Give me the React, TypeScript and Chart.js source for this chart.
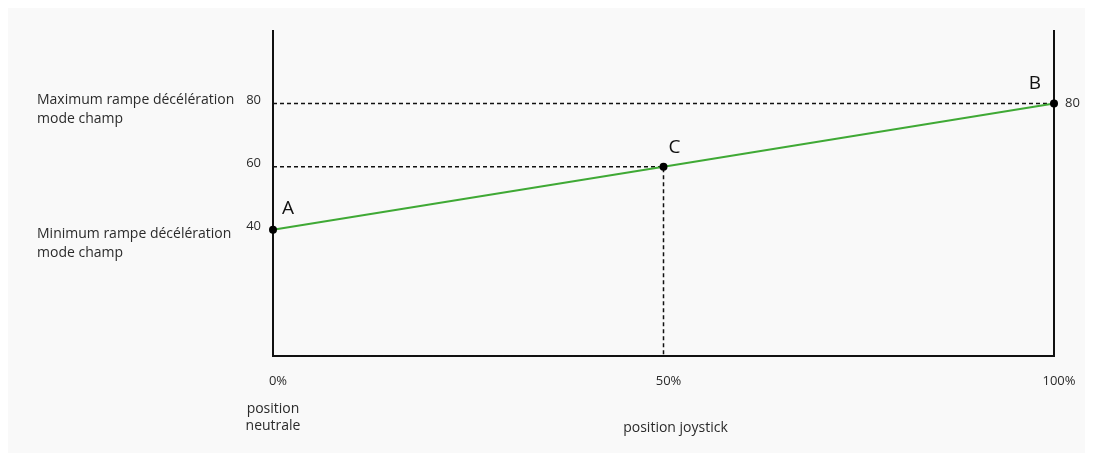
import React, { useEffect, useRef } from "react";
import { Chart, registerables } from "chart.js";

Chart.register(...registerables);

// Data
const pointLabels = ["A", "C", "B"];
const joystickPos = [0, 50, 100];
const rampValues = [40, 60, 80];
const xTickValues = [0, 50, 100];
const leftTickValues = [40, 60, 80];
const rightTickValues = [80];
const maxRampLabel = ["Maximum rampe décélération", "mode champ"];
const minRampLabel = ["Minimum rampe décélération", "mode champ"];
const neutralLabel = ["position", "neutrale"];
const xAxisTitle = "position joystick";

const FONT = "'Open Sans', 'Noto Sans', sans-serif";
const TEXT = "#2b2b2b";
const GREEN = "#3fa935";

const annotationPlugin = {
  id: "annot",
  afterDatasetsDraw(chart: any) {
    const ctx = chart.ctx;
    const x = chart.scales.x;
    const y = chart.scales.y;
    ctx.save();
    ctx.fillStyle = TEXT;
    ctx.font = `14px ${FONT}`;
    ctx.textAlign = "left";
    ctx.textBaseline = "middle";
    const lx = 29;
    const yMax = y.getPixelForValue(rampValues[2]);
    ctx.fillText(maxRampLabel[0], lx, yMax - 4);
    ctx.fillText(maxRampLabel[1], lx, yMax + 15);
    const yMin = y.getPixelForValue(rampValues[0]);
    ctx.fillText(minRampLabel[0], lx, yMin + 4);
    ctx.fillText(minRampLabel[1], lx, yMin + 23);

    // x descriptions
    ctx.textAlign = "center";
    const x0 = x.getPixelForValue(joystickPos[0]);
    ctx.fillText(neutralLabel[0], x0, 401);
    ctx.fillText(neutralLabel[1], x0, 418);
    ctx.fillText(xAxisTitle, x.getPixelForValue(joystickPos[1]) + 12, 420);

    // point letters
    ctx.fillStyle = "#111111";
    ctx.font = `19px ${FONT}`;
    const offs = [
      [15, -21],
      [11, -19],
      [-19, -20],
    ];
    pointLabels.forEach((lab, i) => {
      const px = x.getPixelForValue(joystickPos[i]);
      const py = y.getPixelForValue(rampValues[i]);
      ctx.fillText(lab, px + offs[i][0], py + offs[i][1]);
    });
    ctx.restore();
  },
};

export default function App() {
  const ref = useRef<HTMLCanvasElement | null>(null);
  useEffect(() => {
    if (!ref.current) return;
    const dash = [4, 3];
    const chart = new Chart(ref.current, {
      type: "line",
      data: {
        datasets: [
          {
            data: joystickPos.map((v, i) => ({ x: v, y: rampValues[i] })),
            borderColor: GREEN,
            borderWidth: 2,
            pointRadius: 4,
            pointBackgroundColor: "#000000",
            pointBorderColor: "#000000",
            pointBorderWidth: 0,
            clip: false,
            yAxisID: "y",
          } as any,
          {
            data: [
              { x: joystickPos[0], y: rampValues[2] },
              { x: joystickPos[2], y: rampValues[2] },
            ],
            borderColor: "#111111",
            borderWidth: 1.5,
            borderDash: dash,
            pointRadius: 0,
            clip: false,
            yAxisID: "y",
          } as any,
          {
            data: [
              { x: joystickPos[0], y: rampValues[1] },
              { x: joystickPos[1], y: rampValues[1] },
              { x: joystickPos[1], y: 0 },
              { x: joystickPos[0], y: 0 },
            ],
            borderColor: "#111111",
            borderWidth: 1.5,
            borderDash: dash,
            pointRadius: 0,
            clip: false,
            yAxisID: "y",
          } as any,
        ],
      },
      options: {
        animation: false,
        responsive: false,
        events: [],
        layout: { padding: { top: 23, left: 0, right: 0, bottom: 0 } },
        plugins: { legend: { display: false }, tooltip: { enabled: false } },
        scales: {
          x: {
            type: "linear",
            min: 0,
            max: 100,
            grid: { display: false, drawTicks: false },
            border: { display: true, color: "#111111", width: 2 },
            afterBuildTicks: (s: any) => {
              s.ticks = xTickValues.map((v) => ({ value: v }));
            },
            afterFit: (s: any) => {
              s.height = 97;
              s.paddingLeft = 0;
              s.paddingRight = 0;
            },
            ticks: {
              padding: 17,
              labelOffset: 5,
              maxRotation: 0,
              autoSkip: false,
              color: TEXT,
              font: { family: FONT, size: 13 },
              callback: (v: any) => `${v}%`,
            },
          },
          y: {
            type: "linear",
            position: "left",
            min: 0,
            max: 103,
            grid: { display: false, drawTicks: false },
            border: { display: true, color: "#111111", width: 2 },
            afterBuildTicks: (s: any) => {
              s.ticks = leftTickValues.map((v) => ({ value: v }));
            },
            afterFit: (s: any) => {
              s.width = 265;
            },
            ticks: {
              padding: 12,
              labelOffset: -3,
              color: TEXT,
              font: { family: FONT, size: 13 },
            },
          },
          y2: {
            type: "linear",
            position: "right",
            min: 0,
            max: 103,
            grid: { display: false, drawTicks: false },
            border: { display: true, color: "#111111", width: 2 },
            afterBuildTicks: (s: any) => {
              s.ticks = rightTickValues.map((v) => ({ value: v }));
            },
            afterFit: (s: any) => {
              s.width = 31;
            },
            ticks: {
              padding: 11,
              color: TEXT,
              font: { family: FONT, size: 13 },
            },
          },
        },
      } as any,
      plugins: [annotationPlugin],
    });
    return () => chart.destroy();
  }, []);
  return (
    <div style={{ width: 1077, height: 445, background: "#f9f9f9" }}>
      <canvas ref={ref} width={1077} height={445} style={{ display: "block" }} />
    </div>
  );
}
